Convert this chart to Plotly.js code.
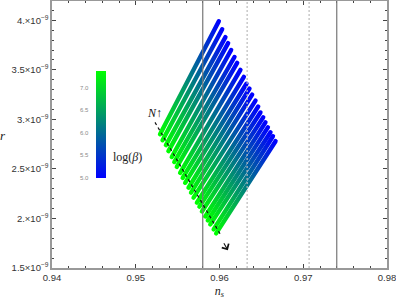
<!DOCTYPE html>
<html>
<head>
<meta charset="utf-8">
<script src="https://cdn.plot.ly/plotly-3.0.1.min.js"></script>
<style>html,body{margin:0;padding:0;background:#fff;}#chart{width:396px;height:303px;}</style>
</head>
<body>
<div id="chart"></div>
<script>
// ---- data (r in units of 1e-9) ----
// one line per N (N increasing down-right); each runs from log(beta)=5.0 (blue end) to log(beta)=7.37 (green end)
const logBetaRange = [5.0, 7.37];
const nsBlueEnd = [0.95992,0.96032,0.96071,0.96103,0.96139,0.96179,0.96211,0.96250,0.96291,0.96322,0.96358,0.96390,0.96430,0.96462,0.96489,0.96522,0.96549,0.96578,0.96609,0.96638,0.96669];
const rBlueEnd  = [3.99,3.91,3.83,3.77,3.70,3.63,3.57,3.50,3.43,3.36,3.31,3.25,3.19,3.13,3.07,3.02,2.97,2.92,2.87,2.83,2.78];
const nsGreenEnd = [0.9529,0.9532,0.9536,0.9539,0.9543,0.9546,0.9549,0.9553,0.9556,0.9559,0.9563,0.9566,0.9569,0.9573,0.9576,0.9579,0.9583,0.9586,0.9589,0.9593,0.9596];
const rGreenEnd  = [2.85,2.79,2.74,2.68,2.62,2.57,2.52,2.46,2.41,2.36,2.31,2.26,2.21,2.16,2.12,2.07,2.02,1.98,1.94,1.89,1.85];
const solidBounds = [0.958, 0.974];
const dottedBounds = [0.9633, 0.9707];
const yTickVals = [1.5, 2.0, 2.5, 3.0, 3.5, 4.0];
const yTickText = ['1.5×10<sup>−9</sup>','2.×10<sup>−9</sup>','2.5×10<sup>−9</sup>','3.×10<sup>−9</sup>','3.5×10<sup>−9</sup>','4.×10<sup>−9</sup>'];
const xTickVals = [0.94, 0.95, 0.96, 0.97, 0.98];
const xTickText = ['0.94','0.95','0.96','0.97','0.98'];
const cbTickVals = [5.0, 5.5, 6.0, 6.5, 7.0];
const cbTickText = ['5.0','5.5','6.0','6.5','7.0'];
const nArrow = {x0: 0.9523, y0: 2.97, x1: 0.9610, y1: 1.68};

const colorscale = [[0, 'rgb(0,0,255)'], [1, 'rgb(0,255,0)']];

const traces = [];
for (let i = 0; i < nsBlueEnd.length; i++) {
  traces.push({
    type: 'scatter', mode: 'lines',
    x: [nsBlueEnd[i], nsGreenEnd[i]],
    y: [rBlueEnd[i], rGreenEnd[i]],
    line: {color: 'rgb(0,128,128)', width: 4.4},
    showlegend: false, hoverinfo: 'skip'
  });
}
// colorbar carrier
const cbX = 0.1313, cbY = 0.337, cbLen = 0.401;
traces.push({
  type: 'scatter', mode: 'markers', x: [null], y: [null], showlegend: false,
  marker: {color: logBetaRange, cmin: logBetaRange[0], cmax: logBetaRange[1], colorscale: colorscale, showscale: true, size: 0,
    colorbar: {x: cbX, xanchor: 'left', y: cbY, yanchor: 'bottom', len: cbLen, lenmode: 'fraction', thickness: 10,
      xpad: 0, ypad: 0, outlinewidth: 0, showticklabels: false, ticks: ''}}
});

const annotations = [];
cbTickVals.forEach((v, k) => {
  annotations.push({xref: 'paper', yref: 'paper', x: 0.1164, xanchor: 'right',
    y: cbY + (v - logBetaRange[0]) / (logBetaRange[1] - logBetaRange[0]) * cbLen, yanchor: 'middle',
    text: cbTickText[k], showarrow: false, font: {size: 6, color: '#8a8a8a', family: 'Liberation Sans'}});
});
annotations.push({xref: 'paper', yref: 'paper', x: 0.176, xanchor: 'left', y: 0.416, yanchor: 'middle',
  text: 'log(<i>β</i>)', showarrow: false, font: {size: 12, color: '#222', family: 'Liberation Serif'}});
annotations.push({xref: 'paper', yref: 'paper', x: -0.145, xanchor: 'center', y: 0.495, yanchor: 'middle',
  text: '<i>r</i>', showarrow: false, font: {size: 13, color: '#222', family: 'Liberation Serif'}});
annotations.push({xref: 'x', yref: 'y', x: 0.9522, y: 3.06, xanchor: 'center', yanchor: 'middle',
  text: '<i>N</i>↑', showarrow: false, font: {size: 12, color: '#111', family: 'Liberation Serif'}});
annotations.push({xref: 'x', yref: 'y', x: nArrow.x1, y: nArrow.y1, axref: 'pixel', ayref: 'pixel', ax: -7, ay: -12,
  text: ' ', showarrow: true, arrowhead: 4, arrowsize: 1.4, arrowwidth: 1.1, arrowcolor: '#111'});

const shapes = [];
solidBounds.forEach(v => shapes.push({type: 'line', xref: 'x', yref: 'paper', x0: v, x1: v, y0: 0, y1: 1, line: {color: '#777', width: 1.2}}));
dottedBounds.forEach(v => shapes.push({type: 'line', xref: 'x', yref: 'paper', x0: v, x1: v, y0: 0, y1: 1, line: {color: '#bbb', width: 1.2, dash: '2px,2px'}}));
shapes.push({type: 'line', xref: 'x', yref: 'y', x0: nArrow.x0, y0: nArrow.y0, x1: nArrow.x1 - 0.0009, y1: nArrow.y1 + 0.16,
  line: {color: '#111', width: 1.2, dash: '3px,3px'}});

const axisCommon = {
  showgrid: false, zeroline: false, showline: true, linecolor: '#999', linewidth: 1.6,
  mirror: 'allticks', ticks: 'inside', ticklen: 4, tickwidth: 1, tickcolor: '#444',
  ticklabeloverflow: 'allow',
  tickfont: {size: 9.5, color: '#333', family: 'Liberation Sans'}
};

const layout = {
  width: 396, height: 303,
  margin: {l: 52, r: 9, t: 1, b: 35},
  paper_bgcolor: '#fff', plot_bgcolor: '#fff',
  xaxis: Object.assign({}, axisCommon, {range: [0.94, 0.98], tickmode: 'array', tickvals: xTickVals, ticktext: xTickText,
    minor: {dtick: 0.002, ticks: 'inside', ticklen: 2, tickcolor: '#444'},
    title: {text: '<i>n</i><sub><i>s</i></sub>', font: {size: 12, color: '#222', family: 'Liberation Serif'}, standoff: 4}}),
  yaxis: Object.assign({}, axisCommon, {range: [1.5, 4.195], tickmode: 'array', tickvals: yTickVals, ticktext: yTickText,
    minor: {dtick: 0.1, ticks: 'inside', ticklen: 2, tickcolor: '#444'}}),
  shapes: shapes, annotations: annotations,
  showlegend: false, hovermode: false
};

Plotly.newPlot('chart', traces, layout, {staticPlot: true, displayModeBar: false}).then(gd => {
  // colour each N-line along its length with the log(beta) colour scale
  const svg = gd.querySelector('svg.main-svg');
  let defs = svg.querySelector('defs');
  const ns = 'http://www.w3.org/2000/svg';
  const grad = document.createElementNS(ns, 'linearGradient');
  grad.setAttribute('id', 'betaGrad');
  grad.setAttribute('gradientUnits', 'objectBoundingBox');
  grad.setAttribute('x1', '1'); grad.setAttribute('y1', '0');
  grad.setAttribute('x2', '0'); grad.setAttribute('y2', '1');
  colorscale.forEach(([o, c]) => {
    const s = document.createElementNS(ns, 'stop');
    s.setAttribute('offset', o); s.setAttribute('stop-color', c);
    grad.appendChild(s);
  });
  defs.appendChild(grad);
  gd.querySelectorAll('.scatterlayer .trace path.js-line').forEach(p => {
    p.style.stroke = 'url(#betaGrad)';
    p.style.strokeLinecap = 'round';
  });
});
</script>
</body>
</html>
